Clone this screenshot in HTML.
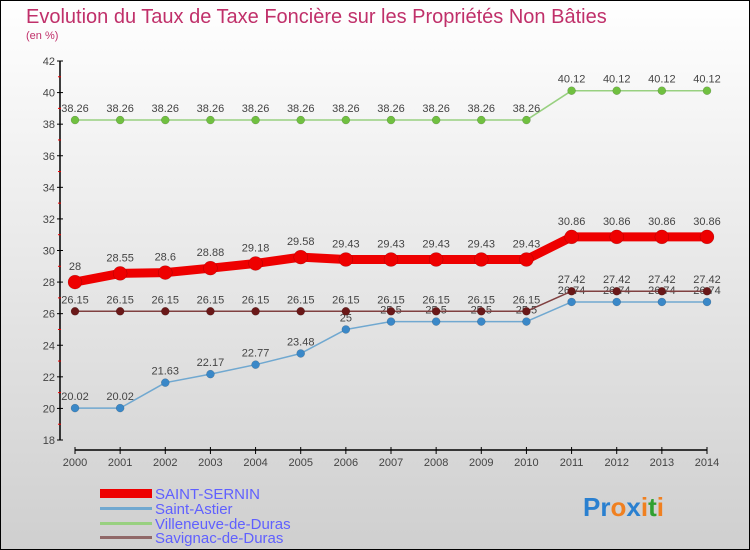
<!DOCTYPE html>
<html><head><meta charset="utf-8"><style>
html,body{margin:0;padding:0;}
body{width:750px;height:550px;overflow:hidden;}
svg{display:block;font-family:"Liberation Sans",sans-serif;}
</style></head><body>
<svg id="chart" width="750" height="550" viewBox="0 0 750 550">
<defs><linearGradient id="bg" x1="0" y1="0" x2="0" y2="1"><stop offset="0" stop-color="#ffffff"/><stop offset="1" stop-color="#cfcfcf"/></linearGradient></defs>
<rect x="0" y="0" width="750" height="550" fill="url(#bg)" stroke="#000" stroke-width="2"/>
<text x="26" y="23" font-size="20" fill="#c0306a">Evolution du Taux de Taxe Foncière sur les Propriétés Non Bâties</text>
<text x="26" y="39" font-size="11" fill="#c0306a">(en %)</text>
<g id="axes"></g>
<g id="series"></g>
<g>
<rect x="100" y="489" width="52" height="9" fill="#e00"/>
<text x="155" y="499" font-size="15" fill="#6060ff">SAINT-SERNIN</text>
<rect x="100" y="507" width="52" height="3" fill="#70a8d0"/>
<text x="155" y="514" font-size="15" fill="#6060ff">Saint-Astier</text>
<rect x="100" y="522" width="52" height="3" fill="#98d080"/>
<text x="155" y="529" font-size="15" fill="#6060ff">Villeneuve-de-Duras</text>
<rect x="100" y="536" width="52" height="3" fill="#906868"/>
<text x="155" y="543" font-size="15" fill="#6060ff">Savignac-de-Duras</text>
</g>
<text x="583" y="516" font-size="26" font-weight="bold"><tspan fill="#2a80d0">Pr</tspan><tspan fill="#f08020">o</tspan><tspan fill="#2a80d0">x</tspan><tspan fill="#f08020">i</tspan><tspan fill="#30a030">t</tspan><tspan fill="#f08020">i</tspan></text>
</svg>
<script>
const years=[2000,2001,2002,2003,2004,2005,2006,2007,2008,2009,2010,2011,2012,2013,2014];
const yTicks=[18,20,22,24,26,28,30,32,34,36,38,40,42];
const saintSernin=[28,28.55,28.6,28.88,29.18,29.58,29.43,29.43,29.43,29.43,29.43,30.86,30.86,30.86,30.86];
const saintAstier=[20.02,20.02,21.63,22.17,22.77,23.48,25,25.5,25.5,25.5,25.5,26.74,26.74,26.74,26.74];
const villeneuve=[38.26,38.26,38.26,38.26,38.26,38.26,38.26,38.26,38.26,38.26,38.26,40.12,40.12,40.12,40.12];
const savignac=[26.15,26.15,26.15,26.15,26.15,26.15,26.15,26.15,26.15,26.15,26.15,27.42,27.42,27.42,27.42];
const NS="http://www.w3.org/2000/svg";
const xS=i=>75+i*(707-75)/(years.length-1);
const yS=v=>440-(v-18)*(440-61)/24;
function mk(tag,attrs,parent,txt){const e=document.createElementNS(NS,tag);for(const k in attrs)e.setAttribute(k,attrs[k]);if(txt!==undefined)e.textContent=txt;parent.appendChild(e);return e;}
const ax=document.getElementById('axes');
let a=mk('line',{x1:60,y1:yS(42),x2:60,y2:yS(18),stroke:'#000','stroke-width':1.5},ax);


yTicks.forEach(t=>{
 mk('line',{x1:57,x2:63,y1:yS(t),y2:yS(t),stroke:'#000'},ax);
 if(t<42)mk('line',{x1:58,x2:61,y1:yS(t+1),y2:yS(t+1),stroke:'#e00'},ax);
 const l=mk('text',{x:55,y:yS(t)+4,'font-size':11,fill:'#444','text-anchor':'end'},ax,String(t));
 
 
});
a=mk('line',{x1:75,y1:450,x2:707,y2:450,stroke:'#000','stroke-width':1.5},ax);


years.forEach((y,i)=>{
 mk('line',{x1:xS(i),x2:xS(i),y1:447,y2:454,stroke:'#000'},ax);
 const l=mk('text',{x:xS(i),y:466,'font-size':11,fill:'#444','text-anchor':'middle'},ax,String(y));
 
 
});
const sg=document.getElementById('series');
function draw(vals,name,color,lw,r,mcol,labelOff){
 const g=mk('g',{},sg);
 
 
 const p=mk('polyline',{points:vals.map((v,i)=>xS(i)+','+yS(v)).join(' '),fill:'none',stroke:color,'stroke-width':lw,'stroke-linejoin':'round'},g);
 
 
 vals.forEach((v,i)=>{
  const c=mk('circle',{cx:xS(i),cy:yS(v),r:r,fill:mcol,stroke:'rgba(0,0,0,0.25)','stroke-width':0.5},g);
  
  
  const t=mk('text',{x:xS(i),y:yS(v)-labelOff,'font-size':11,fill:'#444','text-anchor':'middle'},g,String(v));
  
  
 });
}
draw(villeneuve,'villeneuve-de-duras','#98d080',1.5,4,'#70c040',8);
draw(saintAstier,'saint-astier','#70a8d0',1.5,4,'#3a88c8',8);
draw(savignac,'savignac-de-duras','#804040',1.5,4,'#6a1818',8);
draw(saintSernin,'saint-sernin','#ee0000',9,7,'#ee0000',12);
</script>
</body></html>
